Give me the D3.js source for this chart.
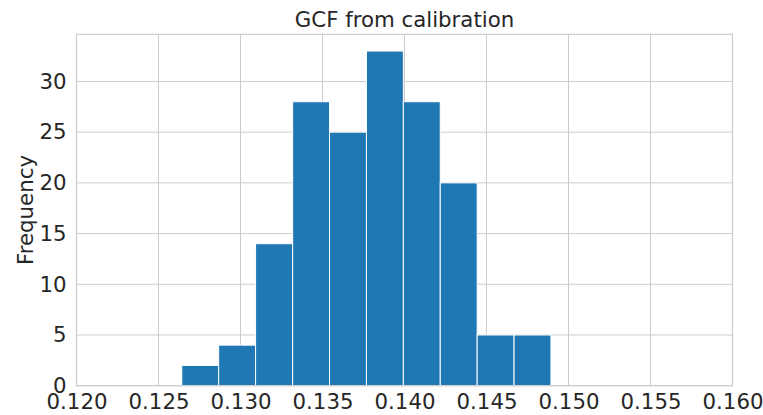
<!DOCTYPE html>
<html>
<head>
<meta charset="utf-8">
<script src="https://cdn.jsdelivr.net/npm/d3@7"></script>
<style>
  body { margin: 0; background: #fff; }
  svg { display: block; }
  text { font-family: "DejaVu Sans", sans-serif; fill: #262626; }
</style>
</head>
<body>
<svg width="763" height="415"></svg>
<script>
// histogram of GCF values
var binEdges = [0.12642, 0.12867, 0.13092, 0.13318, 0.13543, 0.13768, 0.13993, 0.14218, 0.14443, 0.14668, 0.14893];
var counts = [2, 4, 14, 28, 25, 33, 28, 20, 5, 5];
var xTicks = [0.120, 0.125, 0.130, 0.135, 0.140, 0.145, 0.150, 0.155, 0.160];
var yTicks = [0, 5, 10, 15, 20, 25, 30];

var svg = d3.select("svg");
var pLeft = 76.5, pRight = 732.5, pTop = 34.3, pBottom = 385.7;
var fontSize = "21.3px";

var x = d3.scaleLinear().domain([0.12, 0.16]).range([pLeft, pRight]);
var y = d3.scaleLinear().domain([0, 34.65]).range([pBottom, pTop]);

var gridColor = "#cccccc";

// grid
svg.append("g")
	.selectAll("line")
	.data(xTicks)
	.enter().append("line")
	.attr("x1", function(d){ return x(d); })
	.attr("x2", function(d){ return x(d); })
	.attr("y1", pTop).attr("y2", pBottom)
	.style("stroke", gridColor).style("stroke-width", 1);

svg.append("g")
	.selectAll("line")
	.data(yTicks)
	.enter().append("line")
	.attr("y1", function(d){ return y(d); })
	.attr("y2", function(d){ return y(d); })
	.attr("x1", pLeft).attr("x2", pRight)
	.style("stroke", gridColor).style("stroke-width", 1);

// bars
svg.append("g")
	.selectAll("rect")
	.data(counts)
	.enter().append("rect")
	.attr("x", function(d, i){ return x(binEdges[i]); })
	.attr("width", function(d, i){ return x(binEdges[i+1]) - x(binEdges[i]); })
	.attr("y", function(d){ return y(d); })
	.attr("height", function(d){ return y(0) - y(d); })
	.style("fill", "#1f77b4")
	.style("stroke", "#ffffff")
	.style("stroke-width", 1);

// frame
svg.append("rect")
	.attr("x", pLeft).attr("y", pTop)
	.attr("width", pRight - pLeft).attr("height", pBottom - pTop)
	.style("fill", "none")
	.style("stroke", gridColor)
	.style("stroke-width", 1.2);

// axes with no tick marks
var xAxis = d3.axisBottom(x).tickValues(xTicks).tickFormat(d3.format(".3f")).tickSize(0).tickPadding(8);
var gx = svg.append("g").attr("transform", "translate(0," + pBottom + ")").call(xAxis);
gx.select(".domain").remove();
gx.attr("font-family", null).attr("font-size", null);
gx.selectAll("text").style("font-size", fontSize).style("fill", "#262626");

var yAxis = d3.axisLeft(y).tickValues(yTicks).tickSize(0).tickPadding(10);
var gy = svg.append("g").attr("transform", "translate(" + pLeft + ",0)").call(yAxis);
gy.select(".domain").remove();
gy.attr("font-family", null).attr("font-size", null);
gy.selectAll("text").style("font-size", fontSize).style("fill", "#262626");

// labels
svg.append("text")
	.attr("x", (pLeft + pRight) / 2)
	.attr("y", 27)
	.attr("text-anchor", "middle")
	.style("font-size", fontSize)
	.text("GCF from calibration");

svg.append("text")
	.attr("transform", "translate(33," + ((pTop + pBottom) / 2) + ") rotate(-90)")
	.attr("text-anchor", "middle")
	.style("font-size", fontSize)
	.text("Frequency");
</script>
</body>
</html>
